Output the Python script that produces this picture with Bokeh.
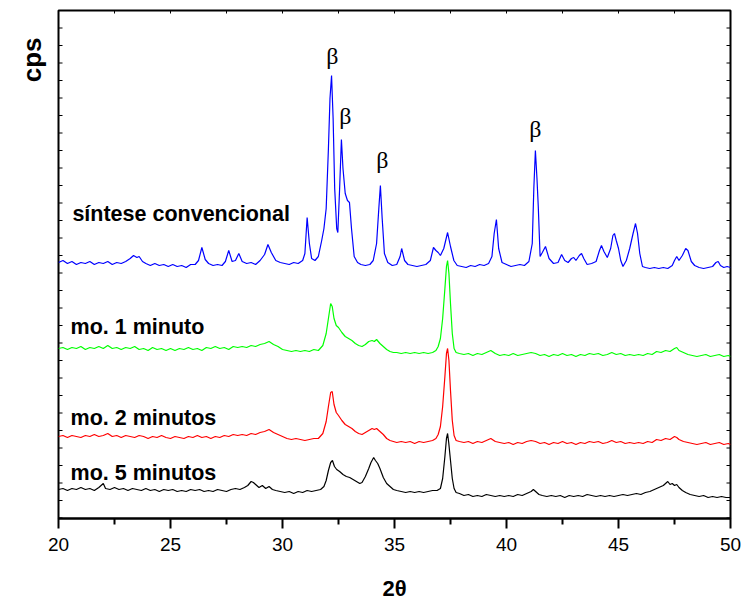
import numpy as np
from bokeh.plotting import figure
from bokeh.models import (FixedTicker, Label, Range1d, Title)
from bokeh.embed import file_html
from bokeh.resources import INLINE

# ---- data: 2-theta (deg) vs intensity (arbitrary cps, stacked) ----
blue_pts = [(20.0,256),(20.2,258),(20.4,255),(20.6,257),(20.8,254),(21.0,256),(21.2,255),(21.4,257),(21.6,254),(21.8,256),
(22.0,255),(22.2,257),(22.4,254),(22.6,256),(22.8,255),(23.0,257),(23.2,260),(23.35,263),(23.5,261),(23.6,262),(23.75,257),
(23.9,255),(24.1,253),(24.3,255),(24.5,253),(24.7,254),(24.9,252),(25.1,254),(25.3,252),(25.5,253),(25.7,251),(25.9,254),
(26.1,254),(26.25,258),(26.4,271),(26.55,259),(26.7,255),(26.9,253),(27.1,254),(27.3,253),(27.45,257),(27.6,268),(27.75,257),
(27.9,258),(28.05,265),(28.2,257),(28.4,255),(28.6,256),(28.8,254),(29.0,258),(29.2,264),(29.35,274),(29.5,266),(29.7,258),
(29.9,256),(30.1,255),(30.3,254),(30.5,256),(30.7,255),(30.9,258),(31.0,265),(31.1,301),(31.2,275),(31.3,260),(31.45,258),
(31.6,262),(31.75,278),(31.85,290),(31.95,310),(32.05,370),(32.12,420),(32.19,443),(32.26,400),(32.33,330),(32.42,290),
(32.47,286),(32.55,330),(32.63,379),(32.7,350),(32.8,325),(32.9,318),(32.99,316),(33.08,290),(33.2,262),(33.35,256),
(33.5,254),(33.7,253),(33.9,254),(34.05,258),(34.2,275),(34.3,310),(34.37,333),(34.45,300),(34.55,265),(34.7,256),
(34.9,253),(35.1,254),(35.25,262),(35.32,270),(35.45,258),(35.6,254),(35.8,253),(36.0,252),(36.2,253),(36.4,254),
(36.6,258),(36.74,271),(36.85,268),(36.95,266),(37.05,263),(37.2,270),(37.37,286),(37.5,272),(37.65,258),(37.8,253),
(38.0,252),(38.2,251),(38.4,253),(38.6,252),(38.8,254),(39.0,253),(39.2,255),(39.35,262),(39.45,285),(39.55,299),
(39.65,270),(39.8,256),(40.0,254),(40.2,252),(40.4,253),(40.6,254),(40.8,253),(41.0,257),(41.15,275),(41.22,330),
(41.29,368),(41.36,340),(41.42,311),(41.5,262),(41.6,266),(41.74,272),(41.9,260),(42.1,255),(42.3,256),(42.46,264),
(42.6,258),(42.75,256),(42.9,260),(43.0,261),(43.1,258),(43.25,263),(43.35,265),(43.45,260),(43.6,254),(43.8,255),
(44.0,257),(44.15,268),(44.24,273),(44.35,267),(44.5,261),(44.65,270),(44.75,283),(44.82,285),(44.9,278),(45.0,270),
(45.1,258),(45.2,252),(45.35,258),(45.5,270),(45.65,285),(45.76,295),(45.85,285),(45.95,265),(46.07,252),(46.2,251),
(46.4,250),(46.6,251),(46.8,250),(47.0,251),(47.2,250),(47.4,253),(47.5,258),(47.6,262),(47.7,258),(47.85,263),
(48.0,270),(48.1,268),(48.25,257),(48.4,253),(48.6,251),(48.8,250),(49.0,251),(49.2,252),(49.35,256),(49.45,257),
(49.55,253),(49.7,251),(49.85,252),(50.0,251)]

green_pts = [(20.0,170),(20.2,171),(20.4,169),(20.6,171),(20.8,170),(21.0,172),(21.2,169),(21.4,171),(21.6,170),(21.8,172),
(22.0,170),(22.2,173),(22.4,170),(22.6,171),(22.8,169),(23.0,171),(23.2,170),(23.4,172),(23.6,169),(23.8,170),(24.0,168),
(24.2,171),(24.4,169),(24.6,170),(24.8,168),(25.0,170),(25.2,168),(25.4,170),(25.6,169),(25.8,171),(26.0,169),(26.2,170),
(26.4,168),(26.6,171),(26.8,170),(27.0,172),(27.2,170),(27.4,171),(27.6,169),(27.8,172),(28.0,171),(28.2,172),(28.4,171),
(28.6,173),(28.8,172),(29.0,174),(29.2,175),(29.4,177),(29.6,174),(29.8,172),(30.0,169),(30.2,168),(30.4,167),(30.6,168),
(30.8,167),(31.0,168),(31.2,167),(31.4,169),(31.6,168),(31.8,173),(31.95,185),(32.05,200),(32.15,215),(32.22,212),
(32.3,200),(32.4,193),(32.5,191),(32.65,186),(32.8,182),(32.95,180),(33.1,178),(33.25,175),(33.4,173),(33.55,172),
(33.7,174),(33.85,177),(34.0,178),(34.1,177),(34.2,179),(34.35,175),(34.5,172),(34.65,169),(34.8,167),(34.95,166),
(35.1,166),(35.3,165),(35.5,166),(35.7,165),(35.9,166),(36.1,165),(36.3,166),(36.5,165),(36.7,166),(36.85,168),
(36.95,172),(37.05,180),(37.15,200),(37.25,230),(37.32,252),(37.37,258),(37.43,245),(37.5,215),(37.58,185),(37.66,170),
(37.75,166),(37.9,165),(38.1,164),(38.3,165),(38.5,163),(38.7,165),(38.9,164),(39.1,166),(39.3,168),(39.5,165),
(39.7,163),(39.9,164),(40.1,163),(40.3,165),(40.5,163),(40.7,164),(40.9,165),(41.1,166),(41.3,165),(41.5,163),
(41.7,164),(41.9,162),(42.1,164),(42.3,163),(42.5,165),(42.7,163),(42.9,164),(43.1,162),(43.3,164),(43.5,163),
(43.7,165),(43.9,164),(44.1,165),(44.3,163),(44.5,164),(44.7,166),(44.9,164),(45.1,165),(45.3,163),(45.5,164),
(45.7,163),(45.9,164),(46.1,163),(46.3,165),(46.5,164),(46.7,167),(46.9,166),(47.1,168),(47.3,167),(47.5,170),
(47.6,171),(47.7,168),(47.9,166),(48.1,164),(48.3,163),(48.5,162),(48.7,163),(48.9,164),(49.1,162),(49.3,163),
(49.5,164),(49.7,162),(49.9,163),(50.0,162)]

red_pts = [(20.0,82),(20.2,83),(20.4,81),(20.6,83),(20.8,82),(21.0,81),(21.2,83),(21.4,82),(21.6,84),(21.8,82),(22.0,83),
(22.2,85),(22.4,82),(22.6,83),(22.8,81),(23.0,83),(23.2,82),(23.4,81),(23.6,83),(23.8,82),(24.0,80),(24.2,82),(24.4,81),
(24.6,83),(24.8,81),(25.0,80),(25.2,82),(25.4,81),(25.6,80),(25.8,82),(26.0,81),(26.2,83),(26.4,81),(26.6,82),(26.8,80),
(27.0,82),(27.2,81),(27.4,83),(27.6,82),(27.8,84),(28.0,83),(28.2,84),(28.4,83),(28.6,85),(28.8,84),(29.0,86),(29.2,87),
(29.4,89),(29.6,86),(29.8,84),(30.0,82),(30.2,80),(30.4,79),(30.6,80),(30.8,79),(31.0,78),(31.2,79),(31.4,80),(31.6,80),
(31.8,85),(31.95,97),(32.05,112),(32.15,126),(32.22,127),(32.3,114),(32.4,106),(32.5,103),(32.65,98),(32.8,94),
(32.95,92),(33.1,90),(33.25,87),(33.4,85),(33.55,84),(33.7,86),(33.85,88),(34.0,90),(34.1,89),(34.2,90),(34.35,87),
(34.5,84),(34.65,80),(34.8,78),(34.95,77),(35.1,76),(35.3,77),(35.5,76),(35.7,77),(35.9,75),(36.1,77),(36.3,76),
(36.5,77),(36.7,78),(36.85,80),(36.95,84),(37.05,92),(37.15,112),(37.25,142),(37.32,165),(37.37,170),(37.43,158),
(37.5,128),(37.58,98),(37.66,83),(37.75,78),(37.9,77),(38.1,76),(38.3,77),(38.5,75),(38.7,77),(38.9,76),(39.1,78),
(39.3,80),(39.5,77),(39.7,76),(39.9,75),(40.1,76),(40.3,74),(40.5,76),(40.7,75),(40.9,77),(41.1,78),(41.3,77),
(41.5,75),(41.7,76),(41.9,74),(42.1,76),(42.3,75),(42.5,77),(42.7,75),(42.9,76),(43.1,74),(43.3,76),(43.5,75),
(43.7,77),(43.9,76),(44.1,77),(44.3,75),(44.5,76),(44.7,78),(44.9,76),(45.1,77),(45.3,75),(45.5,76),(45.7,75),
(45.9,76),(46.1,75),(46.3,77),(46.5,76),(46.7,79),(46.9,78),(47.1,80),(47.3,79),(47.5,82),(47.6,81),(47.7,79),
(47.9,77),(48.1,76),(48.3,75),(48.5,74),(48.7,75),(48.9,76),(49.1,74),(49.3,75),(49.5,76),(49.7,74),(49.9,75),(50.0,74)]

black_pts = [(20.0,29),(20.2,30),(20.4,28),(20.6,30),(20.8,29),(21.0,31),(21.2,29),(21.4,30),(21.6,28),(21.8,31),(22.0,35),
(22.1,30),(22.3,29),(22.5,31),(22.7,29),(22.9,30),(23.1,28),(23.3,30),(23.5,29),(23.7,28),(23.9,30),(24.1,28),(24.3,29),
(24.5,27),(24.7,29),(24.9,28),(25.1,29),(25.3,27),(25.5,28),(25.7,27),(25.9,29),(26.1,28),(26.3,29),(26.5,27),(26.7,28),
(26.9,27),(27.1,29),(27.3,28),(27.5,27),(27.7,29),(27.9,30),(28.1,29),(28.3,31),(28.45,33),(28.6,37),(28.7,36),(28.8,34),
(28.95,31),(29.1,33),(29.25,30),(29.4,32),(29.55,29),(29.7,28),(29.9,27),(30.1,26),(30.3,27),(30.5,25),(30.7,27),
(30.9,26),(31.1,28),(31.3,27),(31.5,28),(31.7,29),(31.85,32),(31.95,38),(32.05,48),(32.15,56),(32.23,58),(32.32,52),
(32.42,49),(32.55,47),(32.7,44),(32.85,42),(33.0,41),(33.15,39),(33.3,37),(33.45,35),(33.55,36),(33.7,42),(33.85,50),
(33.95,56),(34.07,61),(34.15,58),(34.25,55),(34.35,50),(34.5,41),(34.65,35),(34.8,32),(34.95,29),(35.1,28),(35.3,27),
(35.5,26),(35.7,27),(35.9,26),(36.1,27),(36.3,26),(36.5,27),(36.7,28),(36.9,28),(37.05,30),(37.15,40),(37.25,62),
(37.32,80),(37.37,85),(37.42,76),(37.5,58),(37.58,40),(37.66,30),(37.75,26),(37.9,25),(38.1,23),(38.3,24),(38.5,22),
(38.7,23),(38.9,22),(39.1,24),(39.3,23),(39.5,22),(39.7,23),(39.9,22),(40.1,23),(40.3,22),(40.5,24),(40.7,23),
(40.9,25),(41.1,27),(41.2,29),(41.3,27),(41.45,24),(41.6,23),(41.8,22),(42.0,23),(42.2,22),(42.4,23),(42.6,21),
(42.8,23),(43.0,22),(43.2,23),(43.4,22),(43.6,24),(43.8,23),(44.0,22),(44.2,23),(44.4,22),(44.6,23),(44.8,22),
(45.0,23),(45.2,24),(45.4,23),(45.6,24),(45.8,25),(46.0,24),(46.2,26),(46.4,27),(46.6,29),(46.8,31),(47.0,33),
(47.1,35),(47.2,37),(47.3,34),(47.4,35),(47.5,33),(47.6,34),(47.7,31),(47.85,28),(48.0,26),(48.2,24),(48.4,23),
(48.6,22),(48.8,23),(49.0,21),(49.2,22),(49.4,21),(49.6,22),(49.8,21),(50.0,21)]

series_names = ["síntese convencional", "mo. 1 minuto", "mo. 2 minutos", "mo. 5 minutos"]
series_colors = ["#0000FF", "#00FF00", "#FF0000", "#000000"]
series_label_pos = [(20.62, 305), (20.54, 192), (20.54, 101), (20.54, 46)]
beta_pos = [(32.23, 463), (32.81, 403), (34.46, 359), (41.29, 390)]
x_ticks_major = [20, 25, 30, 35, 40, 45, 50]
x_ticks_minor = [22.5, 27.5, 32.5, 37.5, 42.5, 47.5]
y_ticks = list(np.arange(0.5, 508, 17.5))

X0, X1, Y0, Y1 = 20, 50, 0, 508
W, H = 742, 603
BL, BR, BT, BB = 58, 12, 10, 85

# ---- figure ----
p = figure(width=W, height=H, output_backend="svg", toolbar_location=None,
           x_range=Range1d(X0, X1), y_range=Range1d(Y0, Y1),
           min_border_left=BL, min_border_right=BR, min_border_top=BT, min_border_bottom=BB,
           background_fill_color="white", border_fill_color="white")
p.grid.visible = False
p.yaxis.visible = False
p.outline_line_color = "black"
p.outline_line_width = 2

for pts, col in zip([blue_pts, green_pts, red_pts, black_pts], series_colors):
    xs = [a for a, b in pts]
    ys = [b for a, b in pts]
    p.line(xs, ys, line_color=col, line_width=1.2)

# inner ticks on left / right / top frame edges
ux = (X1 - X0) / (W - BL - BR)   # data units per pixel, x
uy = (Y1 - Y0) / (H - BT - BB)   # data units per pixel, y
n = len(y_ticks)
p.segment(x0=[X0] * n, x1=[X0 + 4 * ux] * n, y0=y_ticks, y1=y_ticks, line_color="black", line_width=1)
p.segment(x0=[X1 - 4 * ux] * n, x1=[X1] * n, y0=y_ticks, y1=y_ticks, line_color="black", line_width=1)
top_ticks = [t for t in sorted(x_ticks_major + x_ticks_minor) if X0 < t < X1]
m = len(top_ticks)
p.segment(x0=top_ticks, x1=top_ticks, y0=[Y1 - 3 * uy] * m, y1=[Y1] * m, line_color="black", line_width=1)

# bottom axis
xa = p.xaxis[0]
xa.ticker = FixedTicker(ticks=x_ticks_major, minor_ticks=x_ticks_minor)
xa.axis_line_width = 2
xa.major_tick_line_width = 2
xa.minor_tick_line_width = 2
xa.major_tick_in = 0
xa.major_tick_out = 10
xa.minor_tick_in = 0
xa.minor_tick_out = 6
xa.major_label_text_font = "Liberation Sans"
xa.major_label_text_font_size = "19px"
xa.major_label_text_color = "black"
xa.major_label_standoff = 9
xa.axis_label = "2θ"
xa.axis_label_text_font = "Liberation Sans"
xa.axis_label_text_font_style = "bold"
xa.axis_label_text_font_size = "22px"
xa.axis_label_text_color = "black"
xa.axis_label_standoff = 22

# series labels
for name, (lx, ly) in zip(series_names, series_label_pos):
    p.add_layout(Label(x=lx, y=ly, text=name, text_font="Liberation Sans", text_font_style="bold",
                       text_font_size="21.5px", text_align="left", text_baseline="middle", text_color="black"))

for bx, by in beta_pos:
    p.add_layout(Label(x=bx, y=by, text="β", text_font="Liberation Serif", text_font_size="24px",
                       text_align="center", text_baseline="middle", text_color="black"))

# y axis title at the top of the left side
p.add_layout(Title(text="cps", align="right", offset=27, standoff=24, text_font="Liberation Sans",
                   text_font_style="bold", text_font_size="26px", text_color="black"), "left")

open("out.html", "w").write(file_html(p, INLINE))
